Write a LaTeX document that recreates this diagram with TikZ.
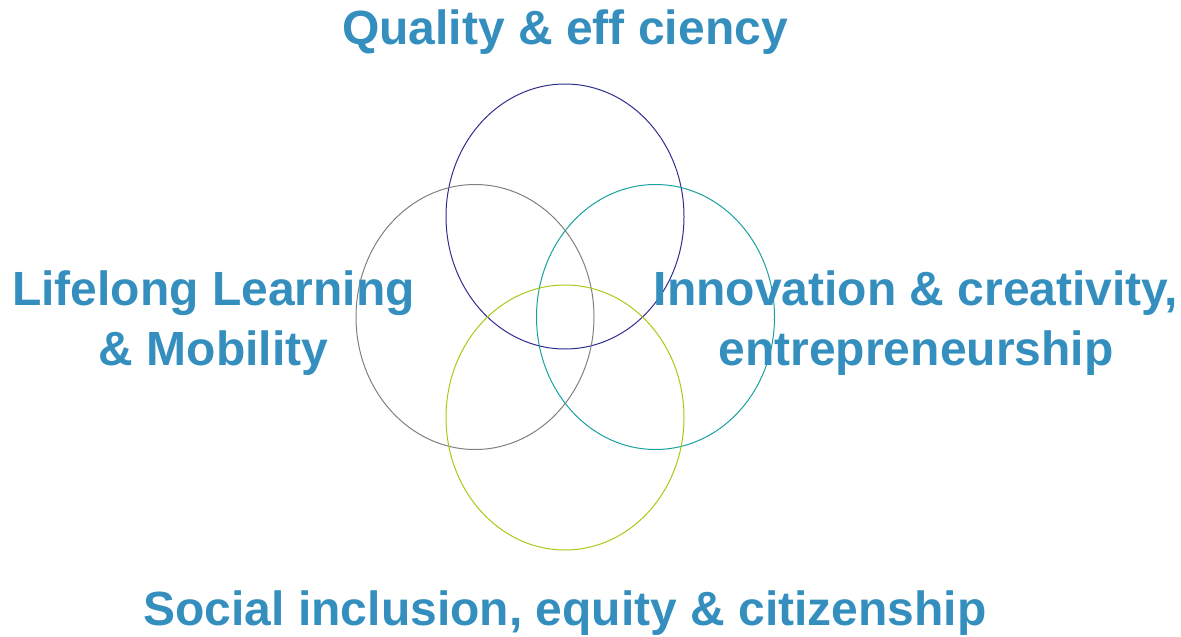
\documentclass[tikz,border=0pt]{standalone}
\usepackage{fontspec}
\setmainfont{Liberation Sans}
\usetikzlibrary{shapes}
\definecolor{labelblue}{RGB}{52,143,190}
\definecolor{navyring}{RGB}{45,45,145}
\definecolor{grayring}{RGB}{128,128,128}
\definecolor{tealring}{RGB}{25,160,160}
\definecolor{limering}{RGB}{170,200,20}

\begin{document}
\begin{tikzpicture}[x=1pt,y=-1pt]
        \tikzstyle{ring}=[ellipse,draw,line width=1pt,minimum width=238pt,minimum height=265pt,inner sep=0pt]
        \tikzstyle{theme}=[text=labelblue,font=\bfseries\fontsize{48}{60}\selectfont,align=center,inner sep=0pt,anchor=base]
        \useasboundingbox (0,0) rectangle (1181,637);
        \node[ring,draw=navyring] (quality) at (565,216.5) {};
        \node[ring,draw=grayring] (lifelong) at (475,317) {};
        \node[ring,draw=tealring] (innovation) at (655.5,317) {};
        \node[ring,draw=limering] (social) at (565,417.5) {};
        \node[theme] (qualitytext) at (565,44) {Quality \& eff ciency};
        \node[theme] (lifelongtext) at (213.5,365) {Lifelong Learning\\\& Mobility};
        \node[theme] (innovationtext) at (916,365) {Innovation \& creativity,\\entrepreneurship};
        \node[theme] (socialtext) at (565,625) {Social inclusion, equity \& citizenship};
\end{tikzpicture}
\end{document}
